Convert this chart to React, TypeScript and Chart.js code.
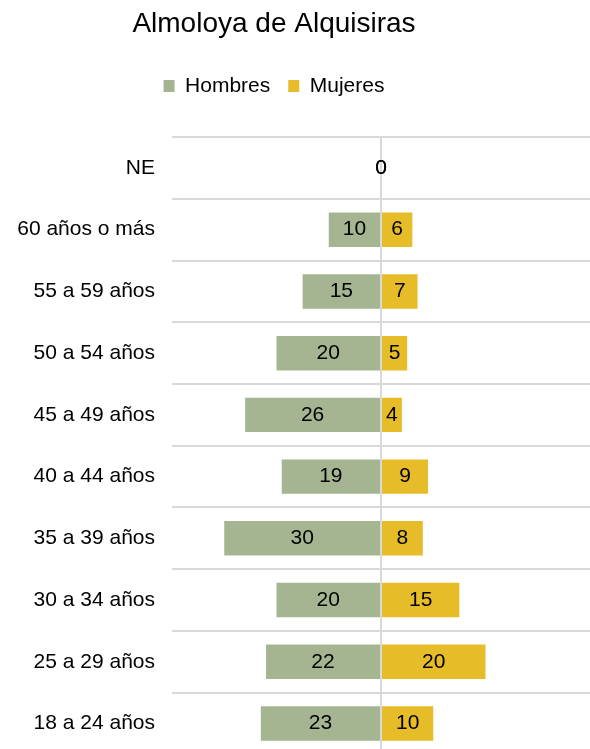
import React, { useEffect, useRef } from 'react';
import { Chart, registerables } from 'chart.js';

Chart.register(...registerables);

const title = 'Almoloya de Alquisiras';
const seriesNames = ['Hombres', 'Mujeres'];
const categories = [
  'NE',
  '60 años o más',
  '55 a 59 años',
  '50 a 54 años',
  '45 a 49 años',
  '40 a 44 años',
  '35 a 39 años',
  '30 a 34 años',
  '25 a 29 años',
  '18 a 24 años',
];
const hombres = [0, 10, 15, 20, 26, 19, 30, 20, 22, 23];
const mujeres = [0, 6, 7, 5, 4, 9, 8, 15, 20, 10];
const axisRange = [-40, 40];

const FONT = "'Liberation Sans', Arial, sans-serif";
const COLORS = ['#A5B592', '#E7BC29'];
const GRID = '#d9d9d9';

const barLabels = {
  id: 'barLabels',
  afterDraw(chart: any) {
    const ctx = chart.ctx;
    ctx.save();
    ctx.font = `21px ${FONT}`;
    ctx.fillStyle = '#000';
    ctx.textAlign = 'center';
    ctx.textBaseline = 'middle';
    chart.data.datasets.forEach((ds: any, di: number) => {
      const meta = chart.getDatasetMeta(di);
      meta.data.forEach((el: any, i: number) => {
        const v = ds.data[i];
        const cx = (el.x + el.base) / 2;
        ctx.fillText(String(Math.abs(v)), cx, el.y);
      });
    });
    ctx.restore();
  },
};

export default function App() {
  const ref = useRef<HTMLCanvasElement | null>(null);

  useEffect(() => {
    if (!ref.current) return;
    const chart = new Chart(ref.current, {
      type: 'bar',
      data: {
        labels: categories,
        datasets: [
          {
            label: seriesNames[0],
            data: hombres.map((v) => -v),
            backgroundColor: COLORS[0],
            borderWidth: 0,
            categoryPercentage: 1,
            barPercentage: 0.558,
          },
          {
            label: seriesNames[1],
            data: mujeres,
            backgroundColor: COLORS[1],
            borderWidth: 0,
            categoryPercentage: 1,
            barPercentage: 0.558,
          },
        ],
      },
      options: {
        indexAxis: 'y',
        responsive: false,
        animation: false,
        layout: { padding: 0 },
        scales: {
          x: {
            position: 'top',
            stacked: true,
            min: axisRange[0],
            max: axisRange[1],
            z: 1,
            border: { display: false },
            ticks: { display: false, stepSize: 10 },
            grid: {
              drawTicks: true,
              tickLength: 30.5,
              tickColor: 'transparent',
              lineWidth: 2,
              color: (c: any) => (c.tick && c.tick.value === 0 ? GRID : 'transparent'),
            },
          },
          y: {
            stacked: true,
            border: { display: false },
            afterFit: (scale: any) => {
              scale.width = 214;
            },
            ticks: {
              padding: 17,
              color: '#000',
              font: { family: FONT, size: 21 },
            },
            grid: {
              drawTicks: false,
              color: GRID,
              lineWidth: 2,
              offset: true,
            },
          },
        },
        plugins: {
          title: {
            display: true,
            text: title,
            color: '#000',
            font: { family: FONT, size: 28, weight: 'normal' },
            padding: { top: 7, bottom: 17 },
          },
          legend: {
            display: true,
            position: 'top',
            labels: {
              color: '#000',
              font: { family: FONT, size: 21 },
              boxWidth: 11,
              boxHeight: 12,
              padding: 18,
            },
          },
          tooltip: { enabled: false },
        },
      },
      plugins: [barLabels],
    } as any);
    return () => chart.destroy();
  }, []);

  return (
    <div style={{ position: 'absolute', left: 0, top: 0, width: 590, height: 749, overflow: 'hidden', background: '#fff' }}>
      <canvas
        ref={ref}
        width={632}
        height={784}
        style={{ position: 'absolute', left: -42, top: 0, width: 632, height: 784 }}
      />
    </div>
  );
}
